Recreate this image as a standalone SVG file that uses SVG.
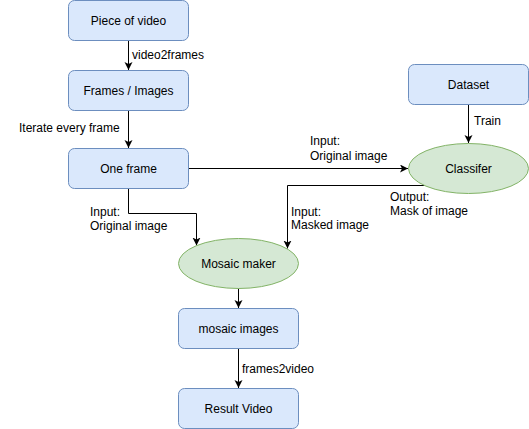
<svg xmlns="http://www.w3.org/2000/svg" width="529" height="429" viewBox="0 0 529 429">
<style>
.box{fill:#dae8fc;stroke:#6c8ebf;stroke-width:1}
.ell{fill:#d5e8d4;stroke:#82b366;stroke-width:1}
.t{font-family:"Liberation Sans",Arial,sans-serif;font-size:12px;fill:#000;text-anchor:middle}
.l{font-family:"Liberation Sans",Arial,sans-serif;font-size:12px;fill:#000}
.c{fill:none;stroke:#000;stroke-width:1}
</style>
<defs>
<marker id="a" markerWidth="10" markerHeight="10" refX="8" refY="4" orient="auto" markerUnits="userSpaceOnUse">
<path d="M0,0 L8,4 L0,8 L2,4 z" fill="#000"/>
</marker>
</defs>
<rect x="0" y="0" width="529" height="429" fill="#fff"/>
<g id="connectors">
<path class="c" d="M128.5,40.5 V70" marker-end="url(#a)"/>
<path class="c" d="M128.5,110.5 V148" marker-end="url(#a)"/>
<path class="c" d="M188.5,168.5 H408" marker-end="url(#a)"/>
<path class="c" d="M468.5,104.5 V143" marker-end="url(#a)"/>
<path class="c" d="M128.5,188.5 V213.5 H196.5 V245.5" marker-end="url(#a)"/>
<path class="c" d="M424.5,185.5 H287.5 V248.5" marker-end="url(#a)"/>
<path class="c" d="M238.5,288.5 V308" marker-end="url(#a)"/>
<path class="c" d="M238.5,348.5 V388" marker-end="url(#a)"/>
<text class="l" x="132" y="59">video2frames</text>
<text class="l" x="19" y="132">Iterate every frame</text>
<text class="l" x="310" y="145">Input:</text>
<text class="l" x="310" y="160">Original image</text>
<text class="l" x="474" y="125">Train</text>
<text class="l" x="390" y="201">Output:</text>
<text class="l" x="390" y="215">Mask of image</text>
<text class="l" x="291" y="216">Input:</text>
<text class="l" x="291" y="229">Masked image</text>
<text class="l" x="90" y="216">Input:</text>
<text class="l" x="90" y="230">Original image</text>
<text class="l" x="242" y="373">frames2video</text>
</g>
<g id="piece">
<rect class="box" x="68.5" y="0.5" width="120" height="40" rx="6"/>
<text class="t" x="128.5" y="25">Piece of video</text>
</g>
<g id="frames">
<rect class="box" x="68.5" y="70.5" width="120" height="40" rx="6"/>
<text class="t" x="128.5" y="95">Frames / Images</text>
</g>
<g id="oneframe">
<rect class="box" x="68.5" y="148.5" width="120" height="40" rx="6"/>
<text class="t" x="128.5" y="173">One frame</text>
</g>
<g id="dataset">
<rect class="box" x="408.5" y="64.5" width="120" height="40" rx="6"/>
<text class="t" x="468.5" y="89">Dataset</text>
</g>
<g id="classifer">
<ellipse class="ell" cx="468.5" cy="168.5" rx="60" ry="25"/>
<text class="t" x="468.5" y="173">Classifer</text>
</g>
<g id="mosaicmaker">
<ellipse class="ell" cx="238.5" cy="263.5" rx="60" ry="25"/>
<text class="t" x="238.5" y="268">Mosaic maker</text>
</g>
<g id="mosaicimages">
<rect class="box" x="178.5" y="308.5" width="120" height="40" rx="6"/>
<text class="t" x="238.5" y="333">mosaic images</text>
</g>
<g id="result">
<rect class="box" x="178.5" y="388.5" width="120" height="40" rx="6"/>
<text class="t" x="238.5" y="413">Result Video</text>
</g>
</svg>
